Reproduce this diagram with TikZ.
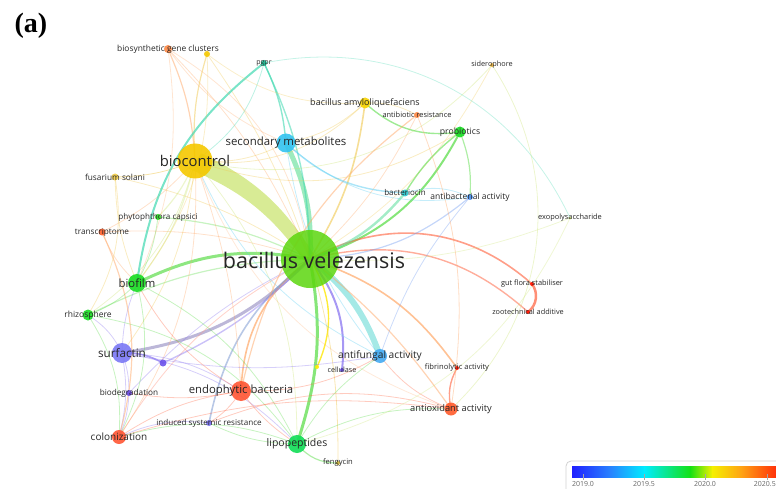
\documentclass[tikz,border=0pt]{standalone}
\usepackage{fontspec}
\setmainfont{Open Sans}
\newfontfamily\serifbold{Liberation Serif}
\pgfdeclarelayer{edges}
\pgfsetlayers{edges,main}
\newcommand\fs[1]{\fontsize{#1}{#1}\selectfont}
\newcommand\lk[4][]{\draw[ed,#1] (#2.center) to[bend left=#4] (#3.center);}
% node colours
\definecolor{nBV}{HTML}{5CD60E}
\definecolor{nYe}{HTML}{F5C800}
\definecolor{nCy}{HTML}{33C3F0}
\definecolor{nGr}{HTML}{18DD22}
\definecolor{nSu}{HTML}{7A78F5}
\definecolor{nRe}{HTML}{FF5533}
\definecolor{nLi}{HTML}{10DD55}
\definecolor{nAF}{HTML}{45AAF2}
\definecolor{nOr}{HTML}{FF8844}
\definecolor{nTe}{HTML}{20CCA0}
\definecolor{nBl}{HTML}{4A90F0}
\definecolor{nVi}{HTML}{6848E8}
% edge colours
\definecolor{eY}{HTML}{F0C850}
\definecolor{eO}{HTML}{FFA868}
\definecolor{eR}{HTML}{FF6A48}
\definecolor{eG}{HTML}{5EDD4C}
\definecolor{eT}{HTML}{40D8B0}
\definecolor{eC}{HTML}{58CCF2}
\definecolor{eB}{HTML}{6C98F0}
\definecolor{eV}{HTML}{8A76F0}
\definecolor{eYG}{HTML}{CBE472}
\definecolor{eP}{HTML}{FF9A88}
\definecolor{txt}{HTML}{262626}
\begin{document}
\begin{tikzpicture}[x=1pt,y=-1pt,
  vn/.style={circle,inner sep=0pt,minimum size=#1,fill opacity=.9,text opacity=1},
  lb/.style={text=txt,inner sep=0pt},
  ed/.style={line width=.8pt,opacity=.35,line cap=round},
  tick/.style={draw=gray!70,line width=.6pt}]
\useasboundingbox (0,0) rectangle (776,489);
\clip (0,0) rectangle (776,489);

\node[font=\serifbold\bfseries\fs{28}, inner sep=0pt] (tag) at (31,26) {(a)};

% ---------- small nodes ----------
\node[vn=8, fill=nOr, label={[lb,font=\fs{8.4}]center:biosynthetic gene clusters}] (BG) at (168,49) {};
\node[vn=6, fill=nYe] (YT) at (207,54) {};
\node[vn=6, fill=nTe, label={[lb,font=\fs{7}]center:pgpr}] (PG) at (264,63) {};
\node[vn=4, fill=eY!80!orange, label={[lb,font=\fs{7.3}]center:siderophore}] (SI) at (492,65) {};
\node[vn=6, fill=nOr, label={[lb,font=\fs{7.4}]center:antibiotic resistance}] (AR) at (417,115) {};
\node[vn=7, fill=nCy!60!nTe, label={[lb,font=\fs{8}]center:bacteriocin}] (BC) at (405,193) {};
\node[vn=6, fill=nBl, label={[lb,font=\fs{8.5}]center:antibacterial activity}] (AB) at (470,197) {};
\node[vn=3, fill=eYG, label={[lb,font=\fs{7.4}]center:exopolysaccharide}] (EP) at (570,218) {};
\node[vn=4, fill=red!85!orange, label={[lb,font=\fs{7.4}]center:gut flora stabiliser}] (GF) at (532,284) {};
\node[vn=4, fill=red!85!orange, label={[lb,font=\fs{7.3}]center:zootechnical additive}] (ZA) at (528,312) {};
\node[vn=4, fill=red!85!orange, label={[lb,font=\fs{7.6}]center:fibrinolytic activity}] (FA) at (457,368) {};
\node[vn=4, fill=nVi, label={[lb,font=\fs{7.2}]center:cellulase}] (CE) at (342,370) {};
\node[vn=4, fill=yellow!95!orange] (YD) at (317,367) {};
\node[vn=7, fill=nVi!80!nSu] (VD) at (163,363) {};
\node[vn=6, fill=nVi, label={[lb,font=\fs{8.2}]center:biodegradation}] (BD) at (129,393) {};
\node[vn=6, fill=nSu!80!nVi, label={[lb,font=\fs{8.1}]center:induced systemic resistance}] (ISR) at (209,423) {};
\node[vn=4, fill=eY!70!olive, label={[lb,font=\fs{7.6}]center:fengycin}] (FE) at (338,463) {};
\node[vn=7, fill=eY!90!yellow, label={[lb,font=\fs{8.3}]center:fusarium solani}] (FS) at (115,177) {};
\node[vn=6, fill=nGr!80!nBV, label={[lb,font=\fs{8.1}]center:phytophthora capsici}] (PC) at (158,217) {};
\node[vn=7, fill=nRe!80!orange, label={[lb,font=\fs{8.2}]center:transcriptome}] (TR) at (102,232) {};
\node[vn=11, fill=nGr, label={[lb,font=\fs{8.5}]center:rhizosphere}] (RH) at (88,315) {};
\node[vn=11, fill=nGr, label={[lb,font=\fs{8.7}]center:probiotics}] (PR) at (460,132) {};
\node[vn=11, fill=nYe!80!yellow, label={[lb,font=\fs{9}]center:bacillus amyloliquefaciens}] (AM) at (365,103) {};

% ---------- main nodes ----------
\node[vn=14, fill=nRe, label={[lb,font=\fs{10}]center:colonization}] (CO) at (119,437) {};
\node[vn=14, fill=nAF, label={[lb,font=\fs{10.2}]center:antifungal activity}] (AF) at (380,356) {};
\node[vn=13, fill=nRe!85!orange, label={[lb,font=\fs{9.3}]center:antioxidant activity}] (AO) at (451,409) {};
\node[vn=18, fill=nLi, label={[lb,font=\fs{10.5}]center:lipopeptides}] (L) at (297,444) {};
\node[vn=20, fill=nRe, label={[lb,font=\fs{11.3}]center:endophytic bacteria}] (EB) at (241,391) {};
\node[vn=20, fill=nSu, label={[lb,font=\fs{11.7}]center:surfactin}] (SU) at (122,353) {};
\node[vn=18, fill=nGr, label={[lb,font=\fs{11.3}]center:biofilm}] (BF) at (137,283) {};
\node[vn=19, fill=nCy, label={[lb,font=\fs{11.4}]center:secondary metabolites}] (S) at (286,143) {};
\node[vn=35, fill=nYe, label={[lb,font=\fs{14.8}]center:biocontrol}] (C) at (195,161) {};
\node[vn=58, fill=nBV, fill opacity=.85, label={[lb,font=\fs{21.5},xshift=4pt,yshift=-1pt]center:bacillus velezensis}] (B) at (310,259) {};

% ---------- links ----------
\begin{pgfonlayer}{edges}
% strong, tapered link biocontrol -- bacillus velezensis
\fill[eYG, opacity=.75] ([xshift=6.5pt,yshift=7.6pt]C.center) to[bend left=16] ([xshift=3.9pt,yshift=4.6pt]B.center)
  -- ([xshift=-3.9pt,yshift=-4.6pt]B.center) to[bend right=16] ([xshift=-6.5pt,yshift=-7.6pt]C.center) -- cycle;
\lk[line width=5pt, draw=eT!60!eG, opacity=.55]{S}{B}{14}
\lk[line width=6pt, draw=eT!55!eC, opacity=.5]{B}{AF}{16}
\lk[line width=3pt, draw=eG, opacity=.75]{B}{L}{14}
\lk[line width=3pt, draw=eG, opacity=.7]{BF}{B}{18}
\lk[line width=3pt, draw=eV!50!gray, opacity=.55]{SU}{B}{-18}
\lk[line width=2pt, draw=eG, opacity=.75]{B}{PR}{-22}
\lk[line width=1.6pt, draw=eR, opacity=.65]{B}{GF}{35}
\lk[line width=1.4pt, draw=eR, opacity=.55]{B}{ZA}{28}
\lk[line width=2.5pt, draw=eR, opacity=.75]{GF}{ZA}{45}
\lk[line width=1.6pt, draw=eO, opacity=.7]{B}{FA}{18}
\lk[line width=1.2pt, draw=eO, opacity=.5]{B}{AO}{8}
\lk[line width=1.6pt, draw=eO, opacity=.7]{EB}{B}{25}
\lk[draw=eP, opacity=.45]{B}{CO}{-15}
\lk[line width=1.2pt, draw=eG]{B}{RH}{-12}
\lk[line width=1.6pt, draw=eY, opacity=.6]{B}{AM}{-12}
\lk[line width=1.4pt, draw=eT, opacity=.55]{B}{PG}{-12}
\lk[line width=2pt, draw=eV, opacity=.75]{B}{CE}{22}
\lk[line width=1.4pt, draw=yellow!90!orange, opacity=.8]{B}{YD}{28}
\lk[draw=eY, opacity=.45]{B}{FE}{8}
\lk[line width=1.6pt, draw=eB!70!gray, opacity=.5]{ISR}{B}{20}
\lk[draw=eV]{B}{BD}{-10}
\lk[draw=eO]{B}{TR}{-10}
\lk[draw=eY]{B}{FS}{-10}
\lk[line width=1.2pt, draw=eG]{B}{PC}{-10}
\lk[draw=eO]{B}{BG}{-10}
\lk[draw=eY, opacity=.3]{B}{SI}{-15}
\lk[draw=eYG, opacity=.3]{B}{EP}{-12}
\lk[line width=2.4pt, draw=eT!70!eG, opacity=.5]{B}{BC}{-15}
\lk[line width=1.2pt, draw=eB, opacity=.4]{B}{AB}{-18}
\lk[line width=1.4pt, draw=eV, opacity=.45]{VD}{B}{-10}
\lk[draw=eO]{B}{AR}{-10}
\lk[draw=eY]{B}{YT}{-8}
% biocontrol
\lk[line width=1.2pt, draw=eYG]{C}{BF}{12}
\lk[draw=eYG]{C}{RH}{20}
\lk[draw=eY, opacity=.5]{C}{FS}{10}
\lk[line width=1.2pt, draw=eO, opacity=.5]{BG}{C}{10}
\lk[line width=1.2pt, draw=eY, opacity=.5]{YT}{C}{-10}
\lk[draw=eY]{C}{S}{-15}
\lk[draw=eT]{C}{PG}{-20}
\lk[draw=eY]{C}{AM}{-25}
\lk[draw=eY]{C}{PR}{-25}
\lk[draw=eY]{C}{SU}{15}
\lk[draw=eYG]{C}{L}{20}
\lk[draw=eO]{C}{EB}{8}
\lk[draw=eO]{C}{CO}{18}
\lk[line width=1.2pt, draw=eYG]{C}{PC}{10}
\lk[draw=eC]{C}{AF}{-20}
\lk[draw=eO]{C}{TR}{10}
\lk[draw=eO, opacity=.25]{C}{AO}{-25}
\lk[draw=eYG]{C}{SI}{-30}
% pgpr and others at top
\lk[line width=2pt, draw=eT, opacity=.7]{PG}{BF}{-22}
\lk[line width=1.4pt, draw=eT, opacity=.6]{PG}{S}{10}
\lk[draw=eT, opacity=.3]{PG}{EP}{38}
\lk[draw=eO, opacity=.3]{BG}{B}{25}
\lk[draw=eO, opacity=.3]{BG}{BF}{15}
\lk[draw=eO, opacity=.3]{BG}{S}{-15}
\lk[draw=eY, opacity=.3]{YT}{BF}{20}
\lk[draw=eY, opacity=.3]{YT}{AM}{-20}
% probiotics / amylo / secmet
\lk[line width=1.4pt, draw=eG, opacity=.6]{PR}{AM}{25}
\lk[line width=1.4pt, draw=eG, opacity=.6]{PR}{BC}{-10}
\lk[line width=1.2pt, draw=eG, opacity=.5]{PR}{AB}{12}
\lk[draw=eY]{AM}{AR}{15}
\lk[draw=eY]{AM}{S}{15}
\lk[line width=1.2pt, draw=eO, opacity=.5]{AR}{EB}{-20}
\lk[line width=1.4pt, draw=eC, opacity=.5]{S}{BC}{-20}
\lk[draw=eC]{S}{AB}{-25}
\lk[draw=eC]{S}{AF}{-15}
\lk[draw=eC]{BC}{AB}{20}
\lk[draw=eB]{AB}{AF}{-10}
% surfactin
\lk[draw=eV]{SU}{BF}{10}
\lk[draw=eV]{SU}{RH}{-15}
\lk[draw=eV]{SU}{CO}{12}
\lk[draw=eV]{SU}{BD}{10}
\lk[line width=1.6pt, draw=eV, opacity=.7]{SU}{VD}{15}
\lk[draw=eV]{SU}{L}{18}
\lk[draw=eV]{SU}{EB}{15}
\lk[draw=eV]{SU}{AF}{-10}
% endophytic bacteria
\lk[draw=eR]{EB}{CO}{-12}
\lk[draw=eR]{EB}{ISR}{12}
\lk[draw=eR]{EB}{L}{-10}
\lk[draw=eR]{EB}{AF}{-15}
\lk[draw=eR]{EB}{BF}{15}
\lk[draw=eR]{BD}{EB}{-10}
% lipopeptides
\lk[draw=eG]{L}{CO}{-18}
\lk[draw=eG]{L}{AF}{12}
\lk[draw=eG]{L}{AO}{15}
\lk[draw=eG]{L}{BF}{-18}
\lk[line width=1.2pt, draw=eG, opacity=.5]{L}{FE}{-25}
\lk[draw=eG]{L}{RH}{-22}
\lk[draw=eG]{L}{ISR}{12}
% antioxidant
\lk[line width=1.4pt, draw=eR, opacity=.65]{AO}{FA}{20}
\lk[draw=eR]{CO}{AO}{12}
\lk[draw=eR]{AO}{AF}{15}
\lk[draw=eO, opacity=.4]{AO}{AR}{-15}
\lk[draw=eR]{AO}{ISR}{-18}
\lk[draw=eYG, opacity=.35]{SI}{AO}{40}
\lk[draw=eYG, opacity=.3]{EP}{L}{25}
% left side
\lk[line width=1.2pt, draw=eO, opacity=.5]{TR}{CO}{20}
\lk[draw=eO]{TR}{BF}{-12}
\lk[draw=eY]{FS}{RH}{20}
\lk[draw=eY]{FS}{BF}{-10}
\lk[draw=eG]{PC}{BF}{10}
\lk[draw=eG]{BF}{RH}{12}
\lk[draw=eG]{BF}{CO}{20}
\lk[draw=eG]{RH}{CO}{18}
\lk[draw=eV]{BD}{CO}{10}
\lk[draw=eV]{ISR}{CO}{-15}
\end{pgfonlayer}

% ---------- colour bar ----------
\draw[draw=gray!35, fill=white, rounded corners=5pt, line width=.8pt] (566,461) rectangle (810,505);
\shade[left color={rgb,255:red,32;green,32;blue,255}, right color={rgb,255:red,40;green,130;blue,255}] (572,466) rectangle (610.5,477);
\shade[left color={rgb,255:red,40;green,130;blue,255}, right color={rgb,255:red,0;green,236;blue,255}] (610,466) rectangle (644.5,477);
\shade[left color={rgb,255:red,0;green,236;blue,255}, right color={rgb,255:red,20;green,225;blue,20}] (644,466) rectangle (690.5,477);
\shade[left color={rgb,255:red,20;green,225;blue,20}, right color={rgb,255:red,245;green,240;blue,0}] (690,466) rectangle (712.5,477);
\shade[left color={rgb,255:red,245;green,240;blue,0}, right color={rgb,255:red,255;green,160;blue,20}] (712,466) rectangle (742.5,477);
\shade[left color={rgb,255:red,255;green,160;blue,20}, right color={rgb,255:red,255;green,50;blue,10}] (742,466) rectangle (776,477);
\draw[tick] (583,474) -- (583,480);
\draw[tick] (644,474) -- (644,480);
\draw[tick] (705,474) -- (705,480);
\draw[tick] (767,474) -- (767,480);
\node[text=gray!80!black, font=\fs{7}, inner sep=0pt] (t0) at (583,484.5) {2019.0};
\node[text=gray!80!black, font=\fs{7}, inner sep=0pt] (t1) at (644,484.5) {2019.5};
\node[text=gray!80!black, font=\fs{7}, inner sep=0pt] (t2) at (705,484.5) {2020.0};
\node[text=gray!80!black, font=\fs{7}, inner sep=0pt, anchor=east] (t3) at (776,484.5) {2020.5};
\end{tikzpicture}
\end{document}
